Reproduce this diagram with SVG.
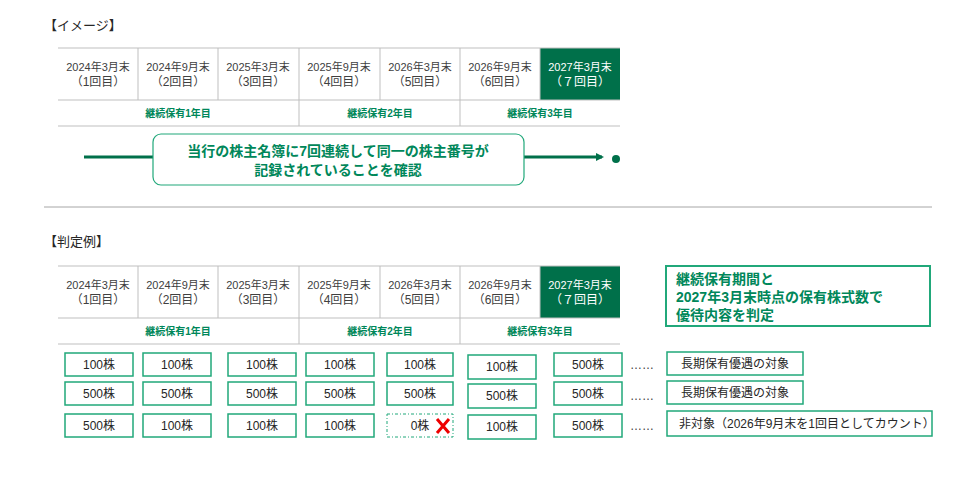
<svg xmlns="http://www.w3.org/2000/svg" width="954" height="482" viewBox="0 0 954 482">
<style>
text{font-family:"Liberation Sans","Noto Sans CJK JP",sans-serif}
.h{font-size:11px;fill:#404040;text-anchor:middle}
.hw{font-size:11px;fill:#fff;text-anchor:middle}
.p{font-size:12px;fill:#404040;text-anchor:middle}
.pw{font-size:12px;fill:#fff;text-anchor:middle}
.y{font-size:10px;font-weight:bold;fill:#00875a;text-anchor:middle}
.g{stroke:#bfbfbf;stroke-width:1;fill:none}
.b{fill:#fff;stroke:#21a87a;stroke-width:1.5}
.bt{font-size:12px;fill:#262626;text-anchor:middle}
.t{font-size:13px;fill:#262626}
</style>
<defs><marker id="ar" markerWidth="8" markerHeight="8" refX="6" refY="4" orient="auto" markerUnits="userSpaceOnUse"><path d="M0,0 L8,4 L0,8 z" fill="#00704a"/></marker></defs>
<text x="44" y="30" class="t">【イメージ】</text>
<g id="table1">
<rect x="540" y="48" width="80" height="52" fill="#00704a"/>
<path class="g" d="M58,48H620M58,100H620M58,126H620M138,48V100M218,48V100M299,48V126M380,48V100M460,48V126M540,48V100"/>
<text class="h" x="98" y="71">2024年3月末</text><text class="p" x="98" y="86">（1回目）</text>
<text class="h" x="178" y="71">2024年9月末</text><text class="p" x="178" y="86">（2回目）</text>
<text class="h" x="258" y="71">2025年3月末</text><text class="p" x="258" y="86">（3回目）</text>
<text class="h" x="339" y="71">2025年9月末</text><text class="p" x="339" y="86">（4回目）</text>
<text class="h" x="420" y="71">2026年3月末</text><text class="p" x="420" y="86">（5回目）</text>
<text class="h" x="500" y="71">2026年9月末</text><text class="p" x="500" y="86">（6回目）</text>
<text class="hw" x="580" y="71">2027年3月末</text><text class="pw" x="580" y="86">（７回目）</text>
<text class="y" x="178" y="117">継続保有1年目</text><text class="y" x="380" y="117">継続保有2年目</text><text class="y" x="540" y="117">継続保有3年目</text>
</g>
<g id="connectors">
<line x1="84" y1="157" x2="153" y2="157" stroke="#00704a" stroke-width="3"/>
<line x1="524" y1="157" x2="602" y2="157" stroke="#00704a" stroke-width="3" marker-end="url(#ar)"/>
<circle cx="616" cy="159" r="4" fill="#00704a"/>
</g>
<g id="confirm">
<rect x="153" y="134" width="371" height="51" rx="8" fill="#fff" stroke="#21a87a" stroke-width="1.2"/>
<text x="338" y="156" font-size="14" font-weight="bold" fill="#00875a" text-anchor="middle">当行の株主名簿に7回連続して同一の株主番号が</text>
<text x="338" y="175" font-size="14" font-weight="bold" fill="#00875a" text-anchor="middle">記録されていることを確認</text>
</g>
<line x1="44" y1="207" x2="932" y2="207" stroke="#a6a6a6"/>
<text x="44" y="246" class="t">【判定例】</text>
<g id="table2">
<rect x="540" y="266" width="80" height="52" fill="#00704a"/>
<path class="g" d="M58,266H620M58,318H620M58,344H620M138,266V318M218,266V318M299,266V344M380,266V318M460,266V344M540,266V318"/>
<text class="h" x="98" y="289">2024年3月末</text><text class="p" x="98" y="304">（1回目）</text>
<text class="h" x="178" y="289">2024年9月末</text><text class="p" x="178" y="304">（2回目）</text>
<text class="h" x="258" y="289">2025年3月末</text><text class="p" x="258" y="304">（3回目）</text>
<text class="h" x="339" y="289">2025年9月末</text><text class="p" x="339" y="304">（4回目）</text>
<text class="h" x="420" y="289">2026年3月末</text><text class="p" x="420" y="304">（5回目）</text>
<text class="h" x="500" y="289">2026年9月末</text><text class="p" x="500" y="304">（6回目）</text>
<text class="hw" x="580" y="289">2027年3月末</text><text class="pw" x="580" y="304">（７回目）</text>
<text class="y" x="178" y="335">継続保有1年目</text><text class="y" x="380" y="335">継続保有2年目</text><text class="y" x="540" y="335">継続保有3年目</text>
</g>
<g id="judge">
<rect x="666" y="266" width="264" height="60" fill="#fff" stroke="#21a87a" stroke-width="2"/>
<text x="676" y="284" font-size="14" font-weight="bold" fill="#00875a">継続保有期間と</text>
<text x="676" y="302" font-size="14" font-weight="bold" fill="#00875a">2027年3月末時点の保有株式数で</text>
<text x="676" y="320" font-size="14" font-weight="bold" fill="#00875a">優待内容を判定</text>
</g>
<g id="row1">
<rect class="b" x="65" y="353" width="68" height="23"/><text class="bt" x="99" y="369">100株</text>
<rect class="b" x="143" y="353" width="68" height="23"/><text class="bt" x="177" y="369">100株</text>
<rect class="b" x="228" y="353" width="68" height="23"/><text class="bt" x="262" y="369">100株</text>
<rect class="b" x="306" y="353" width="68" height="23"/><text class="bt" x="340" y="369">100株</text>
<rect class="b" x="387" y="353" width="66" height="23"/><text class="bt" x="420" y="369">100株</text>
<rect class="b" x="468" y="355" width="68" height="24"/><text class="bt" x="502" y="371">100株</text>
<rect class="b" x="554" y="353" width="68" height="23"/><text class="bt" x="588" y="369">500株</text>
<text x="630" y="369" font-size="12" fill="#404040">……</text>
<rect class="b" x="667" y="352" width="136" height="23"/><text x="681" y="368" font-size="12" fill="#262626">長期保有優遇の対象</text>
</g>
<g id="row2">
<rect class="b" x="65" y="382" width="68" height="23"/><text class="bt" x="99" y="398">500株</text>
<rect class="b" x="143" y="382" width="68" height="23"/><text class="bt" x="177" y="398">500株</text>
<rect class="b" x="228" y="382" width="68" height="23"/><text class="bt" x="262" y="398">500株</text>
<rect class="b" x="306" y="382" width="68" height="23"/><text class="bt" x="340" y="398">500株</text>
<rect class="b" x="387" y="382" width="66" height="23"/><text class="bt" x="420" y="398">500株</text>
<rect class="b" x="468" y="384" width="68" height="24"/><text class="bt" x="502" y="400">500株</text>
<rect class="b" x="554" y="382" width="68" height="23"/><text class="bt" x="588" y="398">500株</text>
<text x="630" y="400" font-size="12" fill="#404040">……</text>
<rect class="b" x="667" y="381" width="136" height="23"/><text x="681" y="397" font-size="12" fill="#262626">長期保有優遇の対象</text>
</g>
<g id="row3">
<rect class="b" x="65" y="414" width="68" height="23"/><text class="bt" x="99" y="430">500株</text>
<rect class="b" x="143" y="414" width="68" height="23"/><text class="bt" x="177" y="430">100株</text>
<rect class="b" x="228" y="414" width="68" height="23"/><text class="bt" x="262" y="430">100株</text>
<rect class="b" x="306" y="414" width="68" height="23"/><text class="bt" x="340" y="430">100株</text>
<rect x="387" y="414" width="66" height="23" fill="#fff" stroke="#21a87a" stroke-width="1" stroke-dasharray="3,2,1,2"/><text class="bt" x="420" y="430">0株</text>
<path d="M437,419L449,433M449,419L437,433" stroke="#e00" stroke-width="3"/>
<rect class="b" x="468" y="415" width="68" height="24"/><text class="bt" x="502" y="431">100株</text>
<rect class="b" x="554" y="414" width="68" height="23"/><text class="bt" x="588" y="430">500株</text>
<text x="630" y="430" font-size="12" fill="#404040">……</text>
<rect class="b" x="667" y="411" width="265" height="25"/><text x="679" y="428" font-size="12" fill="#262626">非対象（2026年9月末を1回目としてカウント）</text>
</g>
</svg>
